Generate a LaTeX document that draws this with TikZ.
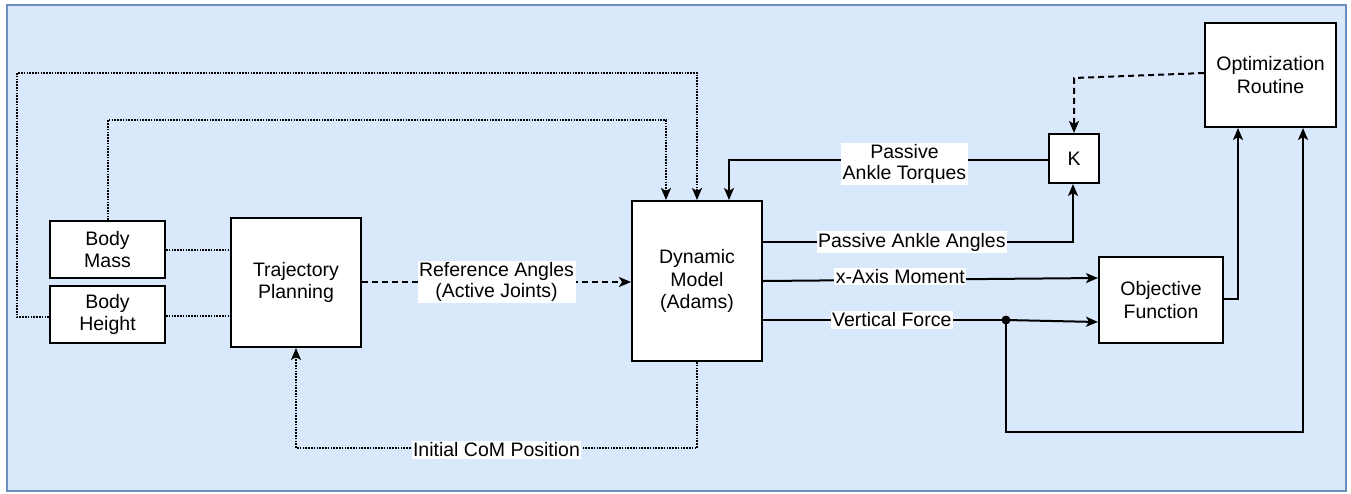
\documentclass[tikz,border=0pt]{standalone}
\usepackage{fontspec}
\setmainfont{Liberation Sans}
\usetikzlibrary{arrows.meta}
\definecolor{bgfill}{HTML}{DAE8FC}
\definecolor{bgline}{HTML}{6C8EBF}
\begin{document}
\begin{tikzpicture}[x=1pt,y=-1pt,
  blk/.style={draw=black,fill=white,line width=2pt,align=center,inner sep=0pt,
    font=\fontsize{19.5}{22.5}\selectfont},
  lbl/.style={fill=white,inner sep=1.5pt,align=center,font=\fontsize{19.5}{21.5}\selectfont},
  conn/.style={line width=2pt,draw=black},
  dotline/.style={line width=1.6pt,draw=black,dash pattern=on 1.6pt off 1.2pt},
  dashline/.style={line width=2pt,draw=black,dash pattern=on 6pt off 4pt},
  tip/.style={-{Stealth[length=12pt,width=10pt,inset=3pt]}}
]
\useasboundingbox (0,0) rectangle (1351,493);
\draw[fill=bgfill,draw=bgline,line width=2pt] (7,5) rectangle (1346,491);

\node[blk,minimum width=115pt,minimum height=57pt] (mass) at (107.5,249.5) {Body\\Mass};
\node[blk,minimum width=115pt,minimum height=57pt] (height) at (107.5,314.5) {Body\\Height};
\node[blk,minimum width=130pt,minimum height=129pt] (traj) at (296,282.5) {Trajectory\\Planning};
\node[blk,minimum width=130pt,minimum height=160pt] (dyn) at (697,281) {Dynamic\\Model\\(Adams)};
\node[blk,minimum width=50pt,minimum height=49pt] (k) at (1074,158.5) {K};
\node[blk,minimum width=131pt,minimum height=104pt] (opt) at (1270.5,75) {Optimization\\Routine};
\node[blk,minimum width=124pt,minimum height=86pt] (obj) at (1161,300) {Objective\\Function};

\coordinate (a1) at (17,317);
\coordinate (a2) at (17,73);
\coordinate (a3) at (697,73);
\coordinate (b1) at (108,120);
\coordinate (b2) at (666,120);
\coordinate (c1) at (697,448);
\coordinate (c2) at (296,448);
\coordinate (d1) at (729,160);
\coordinate (e1) at (1073,242);
\coordinate (f1) at (1006,320);
\coordinate (f2) at (1006,432);
\coordinate (f3) at (1303,432);
\coordinate (g1) at (1238,299);
\coordinate (h1) at (1074,78);

% dotted body connections
\draw[dotline,tip] (height.west |- a1) -- (a1) -- (a2) -- (a3) -- (dyn.north -| a3);
\draw[dotline,tip] (mass.north -| b1) -- (b1) -- (b2) -- (dyn.north -| b2);
\draw[dotline] (mass.east |- 0,250) -- (traj.west |- 0,250);
\draw[dotline] (height.east |- 0,316) -- (traj.west |- 0,316);

% reference angles
\draw[dashline,tip] (traj.east |- 0,282) -- node[lbl] (lref) {Reference Angles\\(Active Joints)} (dyn.west |- 0,282);

% initial CoM
\draw[dotline,tip] (dyn.south -| c1) -- (c1) -- node[lbl,pos=0.5,yshift=-2pt] (lcom) {Initial CoM Position} (c2) -- (traj.south -| c2);

% passive ankle torques
\draw[conn,tip] (k.west |- d1) -- node[lbl,pos=0.45,yshift=-4pt] (ltor) {Passive\\Ankle Torques} (d1) -- (dyn.north -| d1);

% passive ankle angles
\draw[conn,tip] (dyn.east |- 0,242) -- node[lbl,pos=0.48] (lang) {Passive Ankle Angles} (e1) -- (k.south -| e1);

% x-axis moment
\draw[conn,tip] (dyn.east |- 0,281) -- node[lbl,pos=0.41,yshift=3pt] (lmom) {x-Axis Moment} (obj.west |- 0,278);

% vertical force
\draw[conn] (dyn.east |- 0,320) -- node[lbl,pos=0.53] (lvf) {Vertical Force} (f1);
\draw[conn,tip] (f1) -- (obj.west |- 0,322);
\fill (f1) circle (4.5pt);
\draw[conn,tip] (f1) -- (f2) -- (f3) -- (opt.south -| f3);

% objective to optimization
\draw[conn,tip] (obj.east |- g1) -- (g1) -- (opt.south -| g1);

% optimization to K
\draw[dashline,tip] (opt.west |- 0,73) -- (h1) -- (k.north -| h1);
\end{tikzpicture}
\end{document}
